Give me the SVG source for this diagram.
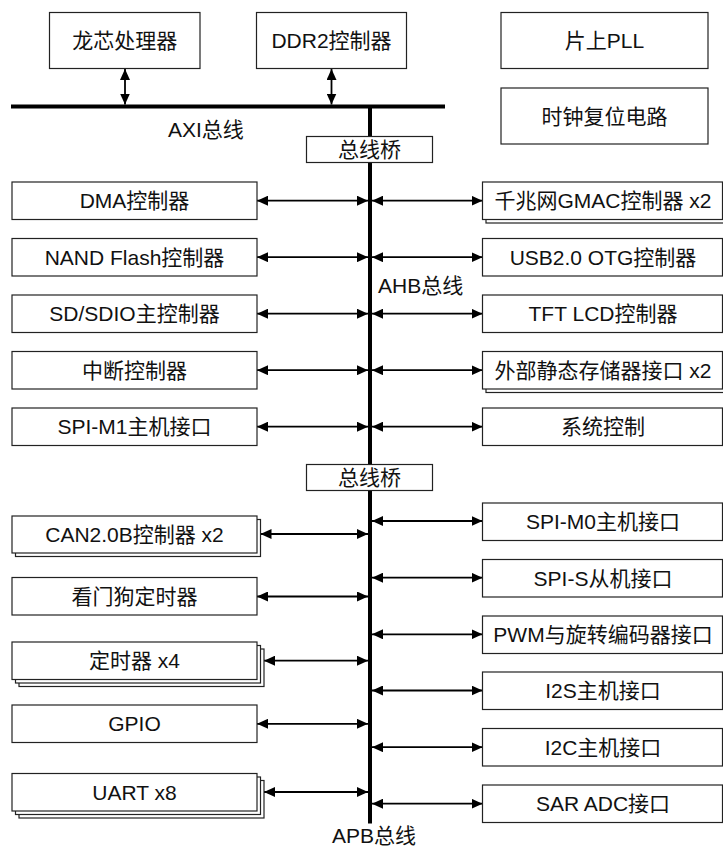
<svg xmlns="http://www.w3.org/2000/svg" width="723" height="848" viewBox="0 0 723 848">
<style>
.box{fill:#fff;stroke:#222;stroke-width:1.2}
.t{font-family:"Liberation Sans","Noto Sans CJK SC",sans-serif;font-size:21px;fill:#111;text-anchor:middle}
.lbl{font-family:"Liberation Sans","Noto Sans CJK SC",sans-serif;font-size:21px;fill:#111}
.bus{stroke:#000;stroke-width:4;fill:none}
.ar{stroke:#000;stroke-width:1.8;fill:none;marker-start:url(#ah);marker-end:url(#ah)}
</style>
<defs>
<marker id="ah" viewBox="0 0 11 10" refX="11" refY="5" markerWidth="11" markerHeight="10" markerUnits="userSpaceOnUse" orient="auto-start-reverse">
<path d="M0,0 L11,5 L0,10 z" fill="#000"/>
</marker>
</defs>
<rect width="723" height="848" fill="#fff"/>

<g id="buses">
<line class="bus" x1="11" y1="106.5" x2="445" y2="106.5"/>
<line class="bus" x1="370" y1="106.5" x2="370" y2="823.5"/>
</g>

<g id="connectors">
<line class="ar" x1="125" y1="69" x2="125" y2="104.5"/>
<line class="ar" x1="331.5" y1="69" x2="331.5" y2="104.5"/>
<line class="ar" x1="257" y1="200.7" x2="368" y2="200.7"/>
<line class="ar" x1="257" y1="257.2" x2="368" y2="257.2"/>
<line class="ar" x1="257" y1="313.7" x2="368" y2="313.7"/>
<line class="ar" x1="257" y1="370.2" x2="368" y2="370.2"/>
<line class="ar" x1="257" y1="426.7" x2="368" y2="426.7"/>
<line class="ar" x1="372" y1="200.7" x2="482.5" y2="200.7"/>
<line class="ar" x1="372" y1="257.2" x2="482.5" y2="257.2"/>
<line class="ar" x1="372" y1="313.7" x2="482.5" y2="313.7"/>
<line class="ar" x1="372" y1="370.2" x2="482.5" y2="370.2"/>
<line class="ar" x1="372" y1="426.7" x2="482.5" y2="426.7"/>
<line class="ar" x1="260.5" y1="534" x2="368" y2="534"/>
<line class="ar" x1="257" y1="596.5" x2="368" y2="596.5"/>
<line class="ar" x1="264" y1="660.7" x2="368" y2="660.7"/>
<line class="ar" x1="257" y1="723.8" x2="368" y2="723.8"/>
<line class="ar" x1="264" y1="792" x2="368" y2="792"/>
<line class="ar" x1="372" y1="521" x2="482.5" y2="521"/>
<line class="ar" x1="372" y1="577.7" x2="482.5" y2="577.7"/>
<line class="ar" x1="372" y1="634.3" x2="482.5" y2="634.3"/>
<line class="ar" x1="372" y1="690.5" x2="482.5" y2="690.5"/>
<line class="ar" x1="372" y1="747.2" x2="482.5" y2="747.2"/>
<line class="ar" x1="372" y1="803.7" x2="482.5" y2="803.7"/>
</g>

<g id="labels">
<text class="lbl" x="168" y="137">AXI总线</text>
<text class="lbl" x="378" y="293">AHB总线</text>
<text class="lbl" x="332" y="843">APB总线</text>
</g>

<g id="cpu"><rect class="box" x="49.5" y="12.5" width="150.5" height="56"/><text class="t" x="124.7" y="48">龙芯处理器</text></g>
<g id="ddr2"><rect class="box" x="256.5" y="12.5" width="150" height="56"/><text class="t" x="331.5" y="48">DDR2控制器</text></g>
<g id="pll"><rect class="box" x="501" y="12.5" width="207" height="56"/><text class="t" x="604.5" y="48">片上PLL</text></g>
<g id="clkrst"><rect class="box" x="501" y="88" width="207" height="56"/><text class="t" x="604.5" y="123.5">时钟复位电路</text></g>

<g id="bridge1"><rect class="box" x="306.5" y="136.5" width="126" height="26"/><text class="t" x="369.5" y="157">总线桥</text></g>
<g id="bridge2"><rect class="box" x="306.5" y="464.5" width="126" height="26"/><text class="t" x="369.5" y="485">总线桥</text></g>

<g id="dma"><rect class="box" x="12" y="182" width="245" height="37.5"/><text class="t" x="134.5" y="208.3">DMA控制器</text></g>
<g id="nand"><rect class="box" x="12" y="238.5" width="245" height="37.5"/><text class="t" x="134.5" y="264.8">NAND Flash控制器</text></g>
<g id="sdio"><rect class="box" x="12" y="295" width="245" height="37.5"/><text class="t" x="134.5" y="321.3">SD/SDIO主控制器</text></g>
<g id="intc"><rect class="box" x="12" y="351.5" width="245" height="37.5"/><text class="t" x="134.5" y="377.8">中断控制器</text></g>
<g id="spim1"><rect class="box" x="12" y="408" width="245" height="37.5"/><text class="t" x="134.5" y="434.3">SPI-M1主机接口</text></g>

<g id="gmac"><rect class="box" x="486" y="185.5" width="240" height="37.5"/><rect class="box" x="482.5" y="182" width="240" height="37.5"/><text class="t" x="603" y="208.3">千兆网GMAC控制器 x2</text></g>
<g id="usb"><rect class="box" x="482.5" y="238.5" width="240" height="37.5"/><text class="t" x="603" y="264.8">USB2.0 OTG控制器</text></g>
<g id="lcd"><rect class="box" x="482.5" y="295" width="240" height="37.5"/><text class="t" x="603" y="321.3">TFT LCD控制器</text></g>
<g id="sram"><rect class="box" x="486" y="355" width="240" height="37.5"/><rect class="box" x="482.5" y="351.5" width="240" height="37.5"/><text class="t" x="603" y="377.8">外部静态存储器接口 x2</text></g>
<g id="sysctl"><rect class="box" x="482.5" y="408" width="240" height="37.5"/><text class="t" x="603" y="434.3">系统控制</text></g>

<g id="can"><rect class="box" x="15.5" y="519.5" width="245" height="37"/><rect class="box" x="12" y="516" width="245" height="37"/><text class="t" x="134.5" y="542">CAN2.0B控制器 x2</text></g>
<g id="wdt"><rect class="box" x="12" y="577.5" width="245" height="37.5"/><text class="t" x="134.5" y="603.8">看门狗定时器</text></g>
<g id="timer"><rect class="box" x="19" y="649" width="245" height="37.5"/><rect class="box" x="15.5" y="645.5" width="245" height="37.5"/><rect class="box" x="12" y="642" width="245" height="37.5"/><text class="t" x="134.5" y="668.3">定时器 x4</text></g>
<g id="gpio"><rect class="box" x="12" y="705" width="245" height="37.5"/><text class="t" x="134.5" y="731.3">GPIO</text></g>
<g id="uart"><rect class="box" x="19" y="780.5" width="245" height="37.5"/><rect class="box" x="15.5" y="777" width="245" height="37.5"/><rect class="box" x="12" y="773.5" width="245" height="37.5"/><text class="t" x="134.5" y="799.8">UART x8</text></g>

<g id="spim0"><rect class="box" x="482.5" y="503" width="240" height="37.5"/><text class="t" x="603" y="529.3">SPI-M0主机接口</text></g>
<g id="spis"><rect class="box" x="482.5" y="559.5" width="240" height="37.5"/><text class="t" x="603" y="585.8">SPI-S从机接口</text></g>
<g id="pwm"><rect class="box" x="482.5" y="616" width="240" height="37.5"/><text class="t" x="603" y="642.3">PWM与旋转编码器接口</text></g>
<g id="i2s"><rect class="box" x="482.5" y="672" width="240" height="37.5"/><text class="t" x="603" y="698.3">I2S主机接口</text></g>
<g id="i2c"><rect class="box" x="482.5" y="728.5" width="240" height="37.5"/><text class="t" x="603" y="754.8">I2C主机接口</text></g>
<g id="sar"><rect class="box" x="482.5" y="785" width="240" height="37.5"/><text class="t" x="603" y="811.3">SAR ADC接口</text></g>
</svg>
